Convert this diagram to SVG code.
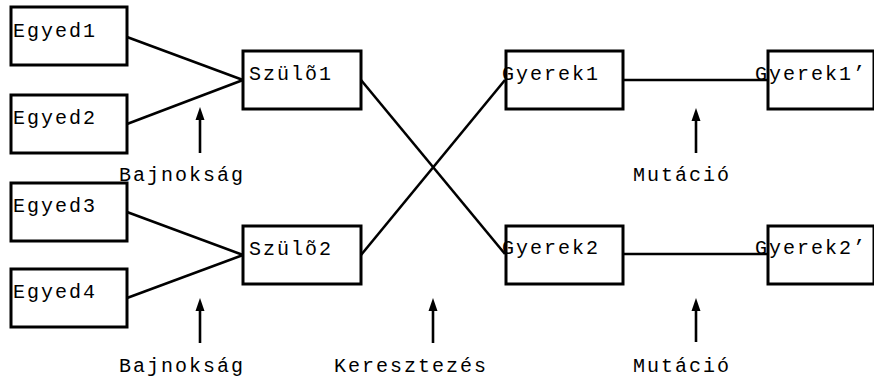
<svg xmlns="http://www.w3.org/2000/svg" width="874" height="381" viewBox="0 0 874 381">
  <style>
    .box { fill: #fff; stroke: #000; stroke-width: 3; }
    .lbl { font-family: "Liberation Mono", "Courier New", monospace; font-size: 20px; letter-spacing: 2px; fill: #000; }
    .edge { stroke: #000; stroke-width: 2.6; fill: none; }
    .head { fill: #000; }
  </style>

  <rect width="874" height="381" fill="#fff"/>

  <!-- boxes -->
  <g id="egyed1"><rect class="box" x="11" y="7" width="116" height="58"/></g>
  <g id="egyed2"><rect class="box" x="11" y="95" width="116" height="58"/></g>
  <g id="egyed3"><rect class="box" x="11" y="183" width="116" height="58"/></g>
  <g id="egyed4"><rect class="box" x="11" y="269" width="116" height="58"/></g>
  <g id="szulo1"><rect class="box" x="243" y="51" width="118" height="58"/></g>
  <g id="szulo2"><rect class="box" x="243" y="226" width="118" height="58"/></g>
  <g id="gyerek1"><rect class="box" x="506" y="51" width="117" height="58"/></g>
  <g id="gyerek2"><rect class="box" x="506" y="226" width="117" height="58"/></g>
  <g id="gyerek1m"><rect class="box" x="768" y="51" width="106" height="58"/></g>
  <g id="gyerek2m"><rect class="box" x="768" y="226" width="106" height="58"/></g>

  <!-- connectors -->
  <g id="connectors">
    <line class="edge" x1="127" y1="37" x2="243" y2="80"/>
    <line class="edge" x1="127" y1="124" x2="243" y2="80"/>
    <line class="edge" x1="127" y1="212" x2="243" y2="255"/>
    <line class="edge" x1="127" y1="298" x2="243" y2="255"/>
    <line class="edge" x1="361" y1="80" x2="505" y2="254"/>
    <line class="edge" x1="361" y1="255" x2="505" y2="80"/>
    <line class="edge" x1="623" y1="80" x2="768" y2="80"/>
    <line class="edge" x1="623" y1="254" x2="768" y2="254"/>
  </g>

  <!-- operator arrows -->
  <g id="arrows">
    <line class="edge" x1="200" y1="153" x2="200" y2="118"/>
    <path class="head" d="M200 107 L204.5 120 L195.5 120 Z"/>
    <line class="edge" x1="200" y1="343" x2="200" y2="309"/>
    <path class="head" d="M200 298 L204.5 311 L195.5 311 Z"/>
    <line class="edge" x1="433" y1="343" x2="433" y2="309"/>
    <path class="head" d="M433 298 L437.5 311 L428.5 311 Z"/>
    <line class="edge" x1="696" y1="153" x2="696" y2="119"/>
    <path class="head" d="M696 108 L700.5 121 L691.5 121 Z"/>
    <line class="edge" x1="696" y1="342" x2="696" y2="309"/>
    <path class="head" d="M696 298 L700.5 311 L691.5 311 Z"/>
  </g>

  <!-- labels -->
  <g id="labels">
    <text class="lbl" x="13" y="37">Egyed1</text>
    <text class="lbl" x="13" y="124">Egyed2</text>
    <text class="lbl" x="13" y="212">Egyed3</text>
    <text class="lbl" x="13" y="298">Egyed4</text>
    <text class="lbl" x="249" y="80">Szülõ1</text>
    <text class="lbl" x="249" y="255">Szülõ2</text>
    <text class="lbl" x="502" y="80">Gyerek1</text>
    <text class="lbl" x="502" y="254">Gyerek2</text>
    <text class="lbl" x="755" y="80">Gyerek1’</text>
    <text class="lbl" x="755" y="254">Gyerek2’</text>
    <text class="lbl" x="119" y="181">Bajnokság</text>
    <text class="lbl" x="119" y="372">Bajnokság</text>
    <text class="lbl" x="334" y="372">Keresztezés</text>
    <text class="lbl" x="633" y="181">Mutáció</text>
    <text class="lbl" x="633" y="372">Mutáció</text>
  </g>
</svg>
